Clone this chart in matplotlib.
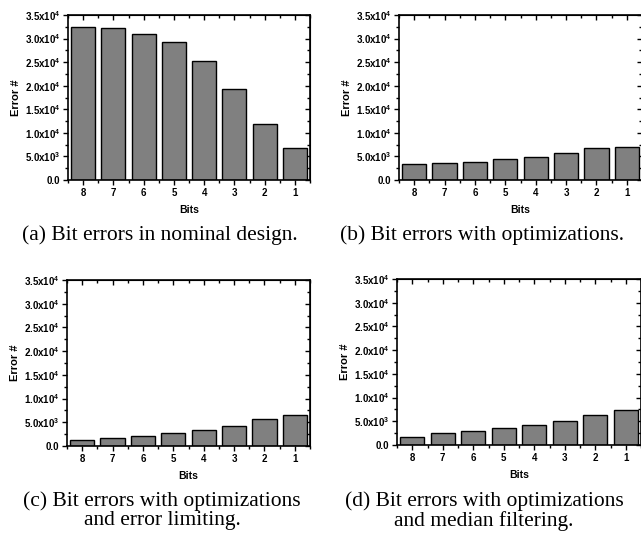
import numpy as np
import matplotlib
matplotlib.use('Agg')
import matplotlib.pyplot as plt
from matplotlib.ticker import FixedLocator, FixedFormatter, MultipleLocator

bits = ['8', '7', '6', '5', '4', '3', '2', '1']
err_nominal = [32500, 32200, 31050, 29200, 25200, 19200, 11900, 6850]
err_opt = [3400, 3600, 3800, 4500, 4900, 5800, 6850, 7000]
err_limit = [1300, 1750, 2050, 2700, 3400, 4300, 5600, 6600]
err_median = [1600, 2500, 2900, 3500, 4200, 5050, 6400, 7400]

ytick_vals = [0, 5000, 10000, 15000, 20000, 25000, 30000, 35000]
ytick_labels = ['0.0', r'5.0x10$^{\mathbf{3}}$', r'1.0x10$^{\mathbf{4}}$', r'1.5x10$^{\mathbf{4}}$',
                r'2.0x10$^{\mathbf{4}}$', r'2.5x10$^{\mathbf{4}}$', r'3.0x10$^{\mathbf{4}}$',
                r'3.5x10$^{\mathbf{4}}$']

captions = [['(a) Bit errors in nominal design.'],
            ['(b) Bit errors with optimizations.'],
            ['(c) Bit errors with optimizations', 'and error limiting.'],
            ['(d) Bit errors with optimizations', 'and median filtering.']]

plt.rcParams['font.family'] = 'Liberation Sans'
plt.rcParams['mathtext.fontset'] = 'custom'
plt.rcParams['mathtext.bf'] = 'Liberation Sans:bold'
plt.rcParams['mathtext.rm'] = 'Liberation Sans:bold'

W, H = 641, 535
fig = plt.figure(figsize=(W/100, H/100), dpi=100)

# panel boxes in pixels: left, right, top, bottom
boxes = [(68, 310, 15, 180), (399, 642, 15, 180), (67, 310, 280, 446), (397, 641, 279, 445)]
cap_x = [160, 482, 162, 484]
cap_y = [[235], [235], [501, 521], [501, 521]]
series = [err_nominal, err_opt, err_limit, err_median]

for (l, r, t, b), vals in zip(boxes, series):
    ax = fig.add_axes([l/W, 1-b/H, (r-l)/W, (b-t)/H])
    x = np.arange(1, len(bits)+1)
    ax.bar(x, vals, width=0.8, color='#808080', edgecolor='black', linewidth=1.0)
    ax.set_xlim(0.5, 8.5)
    ax.set_ylim(0, 35000)
    ax.xaxis.set_major_locator(FixedLocator(x))
    ax.xaxis.set_major_formatter(FixedFormatter(bits))
    ax.xaxis.set_minor_locator(FixedLocator(np.arange(0.5, 9, 1.0)))
    ax.yaxis.set_major_locator(FixedLocator(ytick_vals))
    ax.yaxis.set_major_formatter(FixedFormatter(ytick_labels))
    ax.yaxis.set_minor_locator(MultipleLocator(2500))
    for sp in ax.spines.values():
        sp.set_linewidth(1.2)
    ax.tick_params(which='both', direction='out', top=False, right=False, width=1.0)
    ax.tick_params(which='major', length=3.5, labelsize=7, pad=2)
    ax.tick_params(which='minor', length=2)
    for lab in ax.get_xticklabels() + ax.get_yticklabels():
        lab.set_fontweight('bold')
    # inward ticks on top and right
    ax2 = ax.secondary_xaxis('top')
    ax2.xaxis.set_major_locator(FixedLocator(x))
    ax2.xaxis.set_minor_locator(FixedLocator(np.arange(0.5, 9, 1.0)))
    ax2.tick_params(which='both', direction='in', labeltop=False, width=1.0)
    ax2.tick_params(which='major', length=3.5)
    ax2.tick_params(which='minor', length=2)
    ax3 = ax.secondary_yaxis('right')
    ax3.yaxis.set_major_locator(FixedLocator(ytick_vals))
    ax3.yaxis.set_minor_locator(MultipleLocator(2500))
    ax3.tick_params(which='both', direction='in', labelright=False, width=1.0)
    ax3.tick_params(which='major', length=3.5)
    ax3.tick_params(which='minor', length=2)
    ax.set_xlabel('Bits', fontsize=7.5, fontweight='bold', labelpad=5)
    ax.set_ylabel('Error #', fontsize=8, fontweight='bold', labelpad=3)

for cx, ys, lines in zip(cap_x, cap_y, captions):
    for cy, txt in zip(ys, lines):
        fig.text(cx/W, 1-cy/H, txt, ha='center', va='center', fontsize=15.5,
                 family='Liberation Serif')

fig.savefig('out.png', dpi=100)
